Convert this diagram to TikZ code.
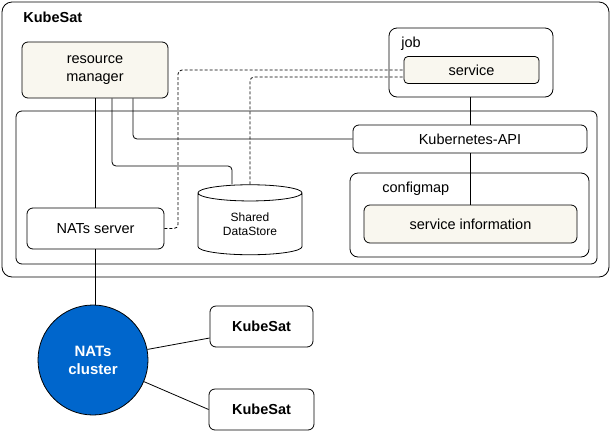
\documentclass[tikz,border=0pt]{standalone}
\usepackage{fontspec}
\setmainfont{Liberation Sans}
\usetikzlibrary{shapes.geometric}
\definecolor{boxfill}{HTML}{F9F7EF}
\definecolor{natsblue}{HTML}{0066CC}

\begin{document}
\begin{tikzpicture}[x=1pt,y=-1pt,line width=0.8pt,
    font=\fontsize{14.5}{17.5}\selectfont]

      \useasboundingbox (0,0) rectangle (611,432);

      \begin{scope}[every node/.style={draw,rounded corners=6,inner sep=0,align=center}]
        \node[rounded corners=10,minimum width=607,minimum height=275] (kubesat) at (305.5,139.5) {};
        \node[minimum width=581,minimum height=153] (inner) at (306.5,187.5) {};
        \node[minimum width=164,minimum height=69,rounded corners=8] (job) at (471,62.5) {};
        \node[minimum width=239,minimum height=84,rounded corners=8] (cm) at (469.5,215) {};
        \node[minimum width=234,minimum height=28] (api) at (470,139) {Kubernetes-API};
        \node[minimum width=137,minimum height=41] (nats) at (95.5,228.5) {NATs server};
        \node[minimum width=103,minimum height=41,font=\fontsize{14.5}{17.5}\selectfont\bfseries] (sat1) at (261.5,326.5) {KubeSat};
        \node[minimum width=105,minimum height=41,font=\fontsize{14.5}{17.5}\selectfont\bfseries] (sat2) at (261.5,409.5) {KubeSat};
      \end{scope}

      \begin{scope}[every node/.style={draw,fill=boxfill,rounded corners=6,inner sep=0,align=center}]
        \node[minimum width=146,minimum height=56] (rm) at (95,70) {resource\\manager};
        \node[minimum width=135,minimum height=27,rounded corners=4] (svc) at (471.5,70) {service};
        \node[minimum width=213,minimum height=38] (info) at (470.5,224) {service information};
      \end{scope}

      \node[draw,cylinder,shape border rotate=90,aspect=0.3,minimum width=104,minimum height=70,
        inner sep=0,align=center,font=\fontsize{12}{14}\selectfont] (store) at (250,224) {Shared\\DataStore};

      \node[draw,circle,fill=natsblue,minimum size=110,inner sep=0,align=center,text=white,
        font=\fontsize{15}{18}\selectfont\bfseries] (cluster) at (93,360) {NATs\\cluster};

      \begin{scope}[every node/.style={anchor=west,inner sep=0}]
        \node[font=\fontsize{14.5}{17.5}\selectfont\bfseries] (kubesatlabel) at (23,17) {KubeSat};
        \node (joblabel) at (401,44) {job};
        \node (cmlabel) at (382,189) {configmap};
      \end{scope}

      \begin{scope}[rounded corners=4]
        \draw ([xshift=17]rm.south) |- (232,166) -- (232,166 |- store.north);
        \draw ([xshift=38]rm.south) |- (api.west);
        \draw[dash pattern=on 3pt off 2pt] (nats.east) -| (178,70) -- (svc.west);
        \draw[dash pattern=on 3pt off 2pt] (store.north) |- ([yshift=-7]svc.west);
      \end{scope}

      \begin{scope}[every edge/.style={draw}]
        \path (rm.south -| nats.north) edge (nats.north);
        \path (nats.south) edge (nats.south |- cluster.north);
        \path (api.north) edge (api.north |- job.south);
        \path (api.south) edge (api.south |- info.north);
        \path (cluster.11) edge ([yshift=-11.5]sat1.west);
        \path (cluster.-23) edge (sat2.west);
      \end{scope}

    \end{tikzpicture}
\end{document}
